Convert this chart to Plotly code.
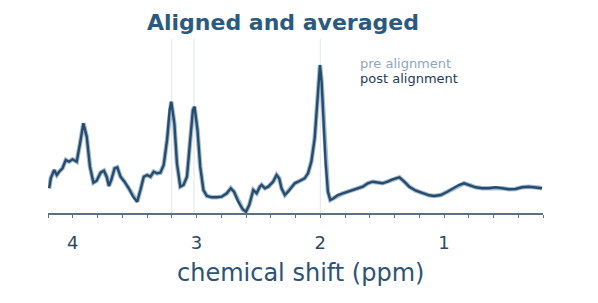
import plotly.graph_objects as go

# chemical shift (ppm) and intensity (arbitrary units)
ppm = [4.191, 4.177, 4.150, 4.129, 4.110, 4.083, 4.056, 4.030, 4.002, 3.968,
       3.941, 3.914, 3.887, 3.861, 3.833, 3.807, 3.775, 3.748, 3.726, 3.708,
       3.689, 3.662, 3.640, 3.614, 3.582, 3.547, 3.512, 3.479, 3.453, 3.426,
       3.399, 3.372, 3.346, 3.319, 3.292, 3.265, 3.238, 3.217, 3.204, 3.179,
       3.158, 3.131, 3.105, 3.077, 3.051, 3.029, 3.016, 2.992, 2.970, 2.944,
       2.916, 2.876, 2.836, 2.796, 2.755, 2.723, 2.697, 2.662, 2.627, 2.600,
       2.574, 2.541, 2.514, 2.488, 2.474, 2.447, 2.420, 2.381, 2.353, 2.332,
       2.313, 2.286, 2.260, 2.232, 2.206, 2.179, 2.152, 2.126, 2.099, 2.072,
       2.045, 2.027, 2.010, 2.002, 1.989, 1.973, 1.957, 1.938, 1.919, 1.892,
       1.858, 1.817, 1.777, 1.737, 1.697, 1.656, 1.616, 1.576, 1.496, 1.455,
       1.415, 1.361, 1.321, 1.281, 1.227, 1.174, 1.120, 1.080, 1.026, 0.973,
       0.919, 0.879, 0.838, 0.798, 0.744, 0.691, 0.637, 0.583, 0.530, 0.476,
       0.422, 0.369, 0.315, 0.262, 0.208]

post_alignment = [24.7, 35.0, 43.0, 38.0, 41.3, 44.7, 53.0, 51.3, 53.7, 51.3,
                  69.7, 89.7, 76.3, 46.3, 30.3, 32.3, 40.3, 42.3, 36.3, 27.0,
                  33.0, 44.7, 45.7, 36.3, 31.3, 24.7, 16.3, 11.3, 23.0, 36.3,
                  38.0, 36.3, 41.3, 39.7, 40.3, 48.0, 73.0, 103.0, 111.3, 89.7,
                  49.7, 26.3, 28.0, 36.3, 73.0, 103.0, 106.3, 83.0, 46.3, 23.0,
                  17.0, 15.7, 15.7, 16.3, 19.7, 24.7, 21.3, 11.3, 3.7, 1.3,
                  8.0, 23.0, 19.7, 26.3, 28.0, 24.7, 26.3, 31.3, 38.0, 34.7,
                  24.7, 18.0, 21.3, 26.3, 29.7, 31.3, 33.0, 34.7, 39.7, 51.3,
                  74.7, 108.0, 138.0, 148.0, 131.3, 91.3, 51.3, 21.3, 13.0, 14.7,
                  18.0, 19.7, 21.3, 23.0, 24.7, 26.3, 29.7, 31.3, 29.7, 31.3,
                  33.7, 35.7, 31.3, 26.3, 22.3, 19.7, 17.7, 17.0, 18.0, 21.3,
                  24.7, 28.0, 29.7, 28.0, 25.7, 24.7, 24.7, 25.7, 24.7, 23.7,
                  24.0, 25.7, 26.3, 25.7, 24.7]

pre_alignment = list(post_alignment)

metabolite_ppm = [3.20, 3.02, 2.00]
tick_vals = [4, 3, 2, 1]
tick_text = ["4", "3", "2", "1"]

FONT = "DejaVu Sans, Liberation Sans, Arial, sans-serif"

fig = go.Figure()
fig.add_trace(go.Scatter(x=ppm, y=pre_alignment, mode="lines", name="pre alignment",
                         line=dict(color="#a3bccf", width=4.5), showlegend=False))
fig.add_trace(go.Scatter(x=ppm, y=post_alignment, mode="lines", name="post alignment",
                         line=dict(color="#264b6d", width=2.4), showlegend=False))

for v in metabolite_ppm:
    fig.add_shape(type="line", xref="x", yref="paper", x0=v, x1=v, y0=0, y1=1.02,
                  line=dict(color="#dfe6ec", width=1), layer="below")

fig.add_annotation(text="pre alignment", xref="paper", yref="paper",
                   x=(358 - 48) / 495, y=(213 - 63) / 171, xanchor="left", yanchor="middle",
                   showarrow=False, font=dict(family=FONT, size=13, color="#8fa7bd"))
fig.add_annotation(text="post alignment", xref="paper", yref="paper",
                   x=(358 - 48) / 495, y=(213 - 78) / 171, xanchor="left", yanchor="middle",
                   showarrow=False, font=dict(family=FONT, size=13, color="#1f3b55"))

fig.add_annotation(text="chemical shift (ppm)", xref="paper", yref="paper",
                   x=(300 - 48) / 495, y=(213 - 273) / 171, xanchor="center", yanchor="middle",
                   showarrow=False, font=dict(family=FONT, size=24, color="#2c5375"))

# the page body has an 8 px margin, so the figure is sized and offset for it
fig.update_layout(
    width=590, height=295,
    margin=dict(l=40, r=55, t=34, b=90),
    paper_bgcolor="white", plot_bgcolor="white",
    title=dict(text="<b>Aligned and averaged</b>", x=275 / 590, xanchor="center",
               xref="container", y=1 - 14 / 295, yanchor="middle",
               font=dict(family=FONT, size=22, color="#2b5a80")),
    xaxis=dict(range=[4.2, 0.2], tickvals=tick_vals, ticktext=tick_text,
               showgrid=False, zeroline=False, showline=True, linecolor="#5d7081",
               linewidth=1.5, ticks="outside", ticklen=3, tickcolor="#5d7081",
               minor=dict(dtick=0.2, ticks="outside", ticklen=3, tickcolor="#5d7081"),
               ticklabelstandoff=10,
               tickfont=dict(family=FONT, size=18, color="#2e4a62")),
    yaxis=dict(range=[0, 171], visible=False),
)

fig.write_html("out.html")
